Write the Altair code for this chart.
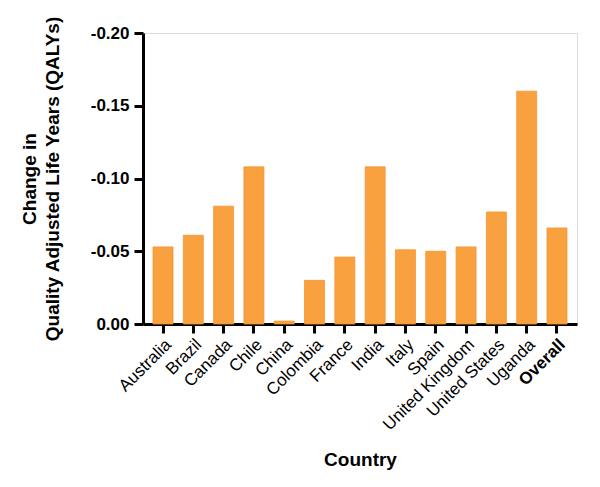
import altair as alt
import pandas as pd

countries = ["Australia", "Brazil", "Canada", "Chile", "China", "Colombia", "France",
             "India", "Italy", "Spain", "United Kingdom", "United States", "Uganda", "Overall"]
qaly_change = [-0.053, -0.061, -0.081, -0.108, -0.002, -0.030, -0.046,
               -0.108, -0.051, -0.050, -0.053, -0.077, -0.160, -0.066]
y_ticks = [0.0, -0.05, -0.10, -0.15, -0.20]

df = pd.DataFrame({"Country": countries, "QALY": qaly_change})

FONT = "Liberation Sans"

chart = alt.Chart(df).mark_bar(color="#F9A03F", stroke="#F29535", strokeWidth=0.8).encode(
    x=alt.X("Country:N", sort=countries,
            scale=alt.Scale(paddingInner=0.34, paddingOuter=0.33),
            axis=alt.Axis(title="Country", labelAngle=-45, labelFontSize=17,
                          labelFont=FONT, labelColor="black",
                          labelFontWeight=alt.ExprRef("datum.value == 'Overall' ? 'bold' : 'normal'"),
                          titleFont=FONT, titleFontSize=19, titleFontWeight="bold",
                          titleColor="black", titlePadding=18,
                          domainColor="black", domainWidth=3, tickColor="black",
                          tickWidth=3, tickSize=9, labelPadding=3)),
    y=alt.Y("QALY:Q", scale=alt.Scale(domain=[0, -0.2], nice=False),
            axis=alt.Axis(title=["Change in", "Quality Adjusted Life Years (QALYs)"],
                          values=y_ticks,
                          labelExpr="datum.value == 0 ? '0.00' : '-' + format(abs(datum.value), '.2f')",
                          labelFont=FONT, labelFontSize=17, labelFontWeight="bold",
                          labelColor="black", labelPadding=5,
                          titleFont=FONT, titleFontSize=19, titleFontWeight="bold",
                          titleColor="black", titlePadding=28, titleLineHeight=23,
                          domainColor="black", domainWidth=3, tickColor="black",
                          tickWidth=3, tickSize=9, grid=False)),
).properties(
    width=434, height=291,
    autosize=alt.AutoSizeParams(type="none"),
    padding={"left": 135, "top": 25, "right": 15, "bottom": 155},
).configure_view(stroke=None).configure(background="white")

chart.save("out.html", embed_options={"renderer": "svg", "actions": False})
